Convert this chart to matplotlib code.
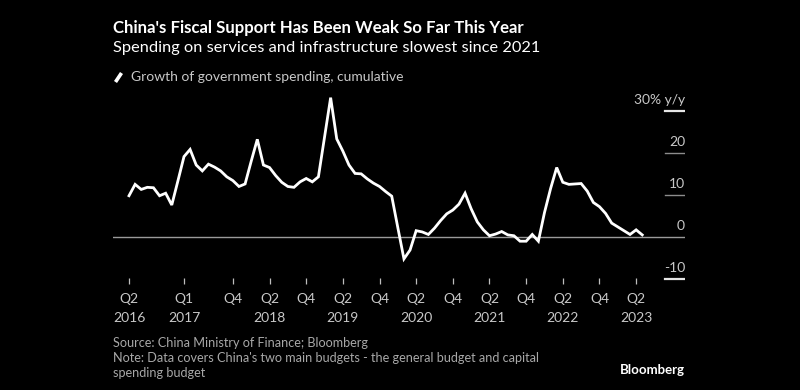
import numpy as np
import matplotlib
matplotlib.use("Agg")
import matplotlib.pyplot as plt
from matplotlib.lines import Line2D

# monthly cumulative y/y growth of government spending (%), May 2016 .. May 2023
spending = [9.8, 12.5, 11.3, 11.8, 11.7, 9.8, 10.4, 7.6, 13.3, 19.1,
            20.8, 17.1, 15.7, 17.3, 16.6, 15.7, 14.3, 13.4, 12.0, 12.6,
            18.0, 23.2, 17.1, 16.5, 14.6, 13.0, 12.0, 11.8, 13.1, 13.9,
            13.1, 14.3, 23.7, 33.1, 23.3, 20.4, 17.1, 15.1, 15.0, 13.8,
            12.8, 12.0, 10.8, 9.7, 2.2, -5.2, -3.1, 1.5, 1.2, 0.6,
            2.1, 3.9, 5.5, 6.4, 7.8, 10.4, 6.7, 3.6, 1.7, 0.3,
            0.7, 1.3, 0.5, 0.3, -1.0, -1.0, 0.6, -1.0, 5.8, 11.5,
            16.5, 13.0, 12.5, 12.6, 12.7, 10.9, 8.2, 7.2, 5.6, 3.3,
            2.4, 1.5, 0.6, 1.7, 0.5]
months = np.arange(len(spending))

tick_pos = [0, 9, 17, 23, 29, 35, 41, 47, 53, 59, 65, 71, 77, 83]
tick_lbl = ["Q2\n2016", "Q1\n2017", "Q4", "Q2\n2018", "Q4", "Q2\n2019", "Q4",
            "Q2\n2020", "Q4", "Q2\n2021", "Q4", "Q2\n2022", "Q4", "Q2\n2023"]
y_ticks = [30, 20, 10, 0, -10]
y_lbls = ["30% y/y", "20", "10", "0", "-10"]

BG = "#000000"
GREY = "#c8c8c8"
plt.rcParams["font.family"] = ["Lato", "DejaVu Sans"]

W, H = 800, 390
fig = plt.figure(figsize=(8, 3.9), dpi=100, facecolor=BG)
# axes box in pixels: x 113..685, y 95..283.5
ax = fig.add_axes([113 / W, 1 - 283.5 / H, (685 - 113) / W, (283.5 - 95) / H])
ax.set_facecolor(BG)
px_per_month = 6.11
ax.set_xlim((113 - 129) / px_per_month, (685 - 129) / px_per_month)
ax.set_ylim((237 - 283.5) / 4.21, (237 - 95) / 4.21)

ax.axhline(0, color="#9a9a9a", lw=1.0, zorder=1)
for v in y_ticks:
    if v == 0:
        continue
    end = v in (y_ticks[0], y_ticks[-1])
    ax.axhline(v, xmin=1 - 20 / 572, xmax=1, color="#e6e6e6" if end else "#8c8c8c",
               lw=1.6 if end else 1.0, zorder=1)
for v, s in zip(y_ticks, y_lbls):
    ax.text(1.0, v + 1.7, s, transform=ax.get_yaxis_transform(), ha="right",
            va="baseline", color=GREY, fontsize=10)

ax.plot(months, spending, color="white", lw=2.0, solid_joinstyle="miter", zorder=3,
        clip_on=False)

for s in ax.spines.values():
    s.set_visible(False)
ax.set_yticks([])
ax.set_xticks(tick_pos)
ax.set_xticklabels(tick_lbl)
ax.tick_params(axis="x", direction="in", length=4.3, width=0.9, color="#bdbdbd",
               labelcolor=GREY, labelsize=10, pad=7)
for t in ax.get_xticklabels():
    t.set_linespacing(1.65)

fig.text(113 / W, 1 - 28 / H, "China's Fiscal Support Has Been Weak So Far This Year",
         color="white", fontsize=12.1, fontweight="bold", va="center")
fig.text(113 / W, 1 - 48 / H, "Spending on services and infrastructure slowest since 2021",
         color="white", fontsize=11.8, va="center")
fig.add_artist(Line2D([115.5 / W, 121.5 / W], [1 - 82 / H, 1 - 73 / H], color="white",
                      lw=2.6, solid_capstyle="butt"))
fig.text(131 / W, 1 - 77 / H, "Growth of government spending, cumulative",
         color=GREY, fontsize=10, va="center")

fig.text(113 / W, 1 - 343 / H, "Source: China Ministry of Finance; Bloomberg",
         color="#a8a8a8", fontsize=9.1, va="center")
fig.text(113 / W, 1 - 358 / H,
         "Note: Data covers China's two main budgets - the general budget and capital",
         color="#a8a8a8", fontsize=9.1, va="center")
fig.text(113 / W, 1 - 373 / H, "spending budget", color="#a8a8a8", fontsize=9.1,
         va="center")
fig.text(685 / W, 1 - 370 / H, "Bloomberg", color="white", fontsize=9.5,
         fontweight="bold", ha="right", va="center")

fig.savefig("out.png", dpi=100, facecolor=BG)
